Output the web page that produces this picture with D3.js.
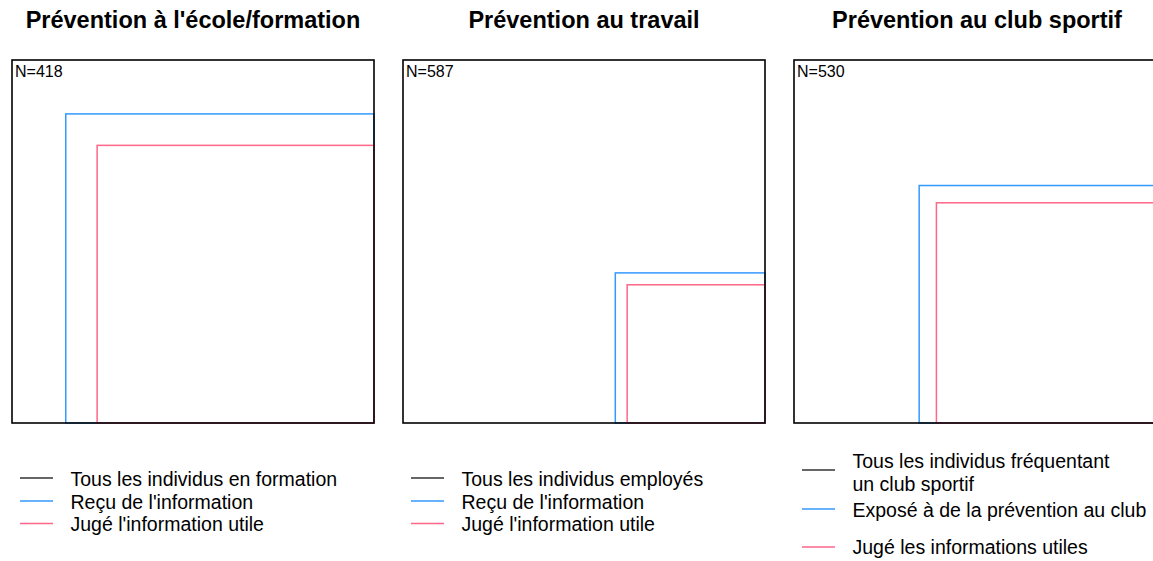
<!DOCTYPE html>
<html>
<head>
<meta charset="utf-8">
<script src="https://cdn.jsdelivr.net/npm/d3@7"></script>
<style>
  html, body { margin: 0; padding: 0; background: #fff; }
  svg { display: block; font-family: "Liberation Sans", Arial, sans-serif; }
</style>
</head>
<body>
<svg id="chart" width="1153" height="561"></svg>
<script>
// ---- data ----
const panelTitles = ["Prévention à l'école/formation", "Prévention au travail", "Prévention au club sportif"];
const nTotal = [418, 587, 530];
const shareInformed = [0.725, 0.171, 0.428];   // share of all individuals (area)
const shareUseful = [0.585, 0.145, 0.368];     // share of all individuals (area)
const legendAll = [["Tous les individus en formation"], ["Tous les individus employés"], ["Tous les individus fréquentant", "un club sportif"]];
const legendInformed = ["Reçu de l'information", "Reçu de l'information", "Exposé à de la prévention au club"];
const legendUseful = ["Jugé l'information utile", "Jugé l'information utile", "Jugé les informations utiles"];

const colAll = "#000000", colLegAll = "#333333", colInf = "#3399FF", colUse = "#FF6688";

const svg = d3.select("#chart");
const panelX = d3.scalePoint().domain(d3.range(3)).range([12, 794]);
const PW = 362, PH = 363, PTOP = 60;
const sx = d3.scaleSqrt().domain([0, 1]).range([0, PW]);
const sy = d3.scaleSqrt().domain([0, 1]).range([0, PH]);

panelTitles.forEach((title, i) => {
  const x0 = panelX(i);
  const g = svg.append("g").attr("transform", `translate(${x0},0)`);

  g.append("text")
    .attr("x", PW / 2 + (i === 2 ? 2 : 0)).attr("y", 28)
    .attr("text-anchor", "middle")
    .attr("font-weight", "bold").attr("font-size", 23.5)
    .attr("fill", "#000")
    .text(title);

  const rects = [
    { p: shareInformed[i], c: colInf },
    { p: shareUseful[i], c: colUse }
  ];
  g.selectAll("rect.share").data(rects).join("rect")
    .attr("class", "share")
    .attr("x", d => PW - sx(d.p))
    .attr("y", d => PTOP + PH - sy(d.p))
    .attr("width", d => sx(d.p))
    .attr("height", d => sy(d.p))
    .attr("fill", "none")
    .attr("stroke", d => d.c)
    .attr("stroke-width", 1.5);

  g.append("rect")
    .attr("x", 0).attr("y", PTOP).attr("width", PW).attr("height", PH)
    .attr("fill", "none").attr("stroke", colAll).attr("stroke-width", 1.6);

  g.append("text")
    .attr("x", 3).attr("y", PTOP + 17)
    .attr("font-size", 16).attr("fill", "#000")
    .text("N=" + nTotal[i]);

  // legend
  const items = i < 2
    ? [{ y: 478, c: colLegAll, lines: legendAll[i], ty: [479] },
       { y: 501, c: colInf, lines: [legendInformed[i]], ty: [502] },
       { y: 523.5, c: colUse, lines: [legendUseful[i]], ty: [524.5] }]
    : [{ y: 470, c: colLegAll, lines: legendAll[i], ty: [461, 484] },
       { y: 509, c: colInf, lines: [legendInformed[i]], ty: [510] },
       { y: 547, c: colUse, lines: [legendUseful[i]], ty: [547] }];
  items.forEach(it => {
    g.append("line")
      .attr("x1", 8).attr("x2", 41)
      .attr("y1", it.y).attr("y2", it.y)
      .attr("stroke", it.c).attr("stroke-width", 1.5);
    it.lines.forEach((t, k) => {
      g.append("text")
        .attr("x", 58.5).attr("y", it.ty[k]).attr("dy", "0.35em")
        .attr("font-size", 19.5).attr("fill", "#000")
        .text(t);
    });
  });
});
</script>
</body>
</html>
